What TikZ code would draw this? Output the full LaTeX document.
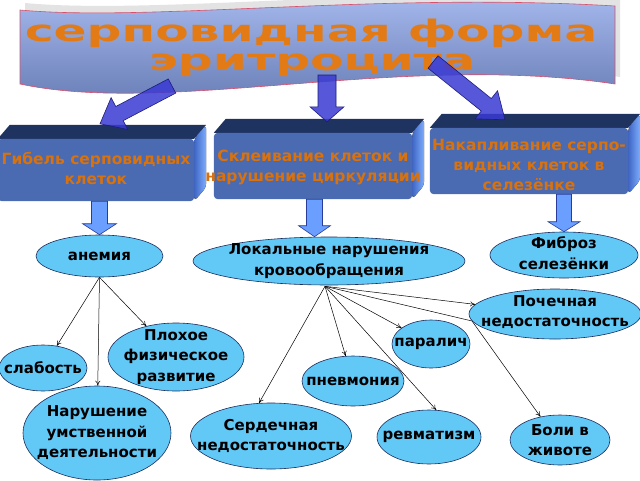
\documentclass[tikz,border=0pt]{standalone}
\usepackage{fontspec}
\usepackage{graphicx}
\setmainfont{DejaVu Sans}
\usetikzlibrary{calc, arrows.meta, shapes.geometric}

\definecolor{bannertop}{HTML}{A6BAEE}
\definecolor{bannerbot}{HTML}{6276B0}
\definecolor{bannerline}{HTML}{D8506A}
\definecolor{titleorange}{HTML}{E27B16}
\definecolor{boxfront}{HTML}{4A6AB2}
\definecolor{boxtop}{HTML}{1F3361}
\definecolor{boxsidea}{HTML}{3F66C4}
\definecolor{boxsideb}{HTML}{7EAEFF}
\definecolor{boxtext}{HTML}{D8720E}
\definecolor{bigblue}{HTML}{3A3AD2}
\definecolor{bigedge}{HTML}{1C1C7A}
\definecolor{smallblue}{HTML}{6A9EFF}
\definecolor{smalledge}{HTML}{2A3C9A}
\definecolor{cellfill}{HTML}{62C8F6}
\definecolor{celledge}{HTML}{1C2C5C}

% block arrow: style, tail, tip, half shaft, half head, head length
\newcommand{\blockarrow}[6]{%
  \coordinate (ba-base) at ($(#3)!#6!(#2)$);
  \filldraw[#1] ($(#2)!#4!90:(#3)$) -- ($(ba-base)!#4!90:(#3)$) -- ($(ba-base)!#5!90:(#3)$)
    -- (#3) -- ($(ba-base)!#5!-90:(#3)$) -- ($(ba-base)!#4!-90:(#3)$) -- ($(#2)!#4!-90:(#3)$) -- cycle;
}
% top and side faces of a box, then its front
\newcommand{\boxfaces}[1]{%
  \fill[boxtop] (#1.north west) -- ++(12,-14) -- ($(#1.north east)+(12,-14)$) -- (#1.north east) -- cycle;
  \fill[left color=boxsidea, right color=boxsideb, rounded corners=4pt]
    (#1.north east) -- ++(12,-14) -- ($(#1.south east)+(12,-14)$) -- (#1.south east) -- cycle;
  \fill[boxfront, rounded corners=4pt] (#1.south west) rectangle (#1.north east);
}

\begin{document}
\begin{tikzpicture}[x={(1pt,0)}, y={(0,-1pt)},
  cell/.style={ellipse, draw=celledge, line width=0.6pt, fill=cellfill, inner sep=0pt},
  celltext/.style={align=center, font=\fontsize{15}{20.5}\selectfont\bfseries},
  cellbox/.style={rectangle, inner sep=0pt, minimum width=198pt, minimum height=66pt},
  boxlabel/.style={align=center, text=boxtext, font=\fontsize{15.5}{20}\selectfont\bfseries},
  titletext/.style={text=titleorange, inner sep=0pt, anchor=base, font=\fontsize{29}{29}\selectfont\bfseries},
  bigarr/.style={fill=bigblue, fill opacity=0.85, draw=bigedge, line width=0.6pt},
  smallarr/.style={fill=smallblue, draw=smalledge, line width=0.6pt},
  link/.style={-{To[length=5pt,width=5pt]}, line width=0.5pt}]
  \useasboundingbox (0,0) rectangle (640,480);

  % --- banner ---
  \path[preaction={fill=gray!22, transform canvas={xshift=5pt, yshift=7pt}},
    top color=bannertop, bottom color=bannerbot, draw=bannerline, line width=0.6pt]
    (20,10) .. controls (150,22) and (380,-8) .. (615,6) -- (615,84)
    .. controls (400,52) and (170,116) .. (20,84) -- cycle;
  \node[titletext] (title1) at (311,41) {\scalebox{1.68}[1.02]{серповидная форма}};
  \node[titletext] (title2) at (312,70) {\scalebox{1.68}[1.02]{эритроцита}};

  % --- boxes ---
  \node[cellbox, minimum width=196pt, minimum height=62pt] (gib) at (96,170) {};
  \node[cellbox] (skl) at (313,166) {};
  \node[cellbox] (nak) at (529,161) {};
  \boxfaces{gib}
  \boxfaces{skl}
  \boxfaces{nak}
  \node[boxlabel] (gibt) at ($(gib)+(0,-2)$) {Гибель серповидных\\клеток};
  \node[boxlabel] (sklt) at ($(skl)+(0,1)$) {Склеивание клеток и\\нарушение циркуляции};
  \node[boxlabel] (nakt) at ($(nak)+(0,4)$) {Накапливание серпо-\\видных клеток в\\селезёнке};

  % --- big arrows ---
  \coordinate (ban-a) at (172,86);
  \coordinate (ban-b) at (327,75);
  \coordinate (ban-c) at (433,62);
  \coordinate (gib-in) at ($(gib.north)+(4,-15)$);
  \coordinate (skl-in) at ($(skl.north)+(14,-11)$);
  \coordinate (nak-in) at ($(nak.north)+(-24,-8)$);
  \blockarrow{bigarr}{ban-a}{gib-in}{8pt}{18pt}{22pt}
  \blockarrow{bigarr}{ban-b}{skl-in}{9pt}{17pt}{15pt}
  \blockarrow{bigarr}{ban-c}{nak-in}{8pt}{18pt}{24pt}

  % --- ellipses ---
  \node[cell, minimum width=127pt, minimum height=42pt,
    label={[celltext]center:анемия}] (anem) at (99.5,256) {};
  \node[cell, minimum width=272pt, minimum height=48pt,
    label={[celltext]center:Локальные нарушения\\кровообращения}] (lok) at (329,261) {};
  \node[cell, minimum width=148pt, minimum height=46pt,
    label={[celltext, yshift=2pt]center:Фиброз\\селезёнки}] (fib) at (564,255) {};
  \node[cell, minimum width=172pt, minimum height=50pt,
    label={[celltext, yshift=2pt]center:Почечная\\недостаточность}] (poch) at (555,314) {};
  \node[cell, minimum width=78pt, minimum height=48pt,
    label={[celltext]center:паралич}] (paral) at (431,344) {};
  \node[cell, minimum width=136pt, minimum height=68pt,
    label={[celltext]center:Плохое\\физическое\\развитие}] (plokh) at (176,357) {};
  \node[cell, minimum width=88pt, minimum height=46pt,
    label={[celltext]center:слабость}] (slab) at (43,368) {};
  \node[cell, minimum width=102pt, minimum height=50pt,
    label={[celltext]center:пневмония}] (pnev) at (353,381) {};
  \node[cell, minimum width=148pt, minimum height=94pt,
    label={[celltext]center:Нарушение\\умственной\\деятельности}] (naru) at (97,433) {};
  \node[cell, minimum width=161pt, minimum height=66pt,
    label={[celltext]center:Сердечная\\недостаточность}] (serd) at (271,436) {};
  \node[cell, minimum width=104pt, minimum height=54pt,
    label={[celltext]center:ревматизм}] (revm) at (429,437) {};
  \node[cell, minimum width=100pt, minimum height=50pt,
    label={[celltext]center:Боли в\\животе}] (boli) at (560,440) {};

  % --- small arrows ---
  \coordinate (gib-out) at (gib.south -| anem.north);
  \coordinate (skl-out) at ($(skl.south)+(1.5,0)$);
  \coordinate (lok-in) at (skl-out |- lok.north);
  \coordinate (nak-out) at (nak.south -| fib.north);
  \blockarrow{smallarr}{gib-out}{anem.north}{8pt}{17pt}{11pt}
  \blockarrow{smallarr}{skl-out}{lok-in}{8pt}{16pt}{11pt}
  \blockarrow{smallarr}{nak-out}{fib.north}{7.5pt}{16pt}{10pt}

  % --- links ---
  \draw[link] (anem.south) -- (slab);
  \draw[link] (anem.south) -- (naru);
  \draw[link] (anem.south) -- (plokh);
  \coordinate (lok-foot) at ($(lok.south)+(-4,1)$);
  \coordinate (boli-bend) at (472,321);
  \draw[link] (lok-foot) -- (poch);
  \draw[link] (lok-foot) -- (paral);
  \draw[link] (lok-foot) -- (pnev);
  \draw[link] (lok-foot) -- (serd.110);
  \draw[link] (lok-foot) -- (revm.75);
  \draw[link] (lok-foot) -- (boli-bend) -- (boli.130);
\end{tikzpicture}
\end{document}
